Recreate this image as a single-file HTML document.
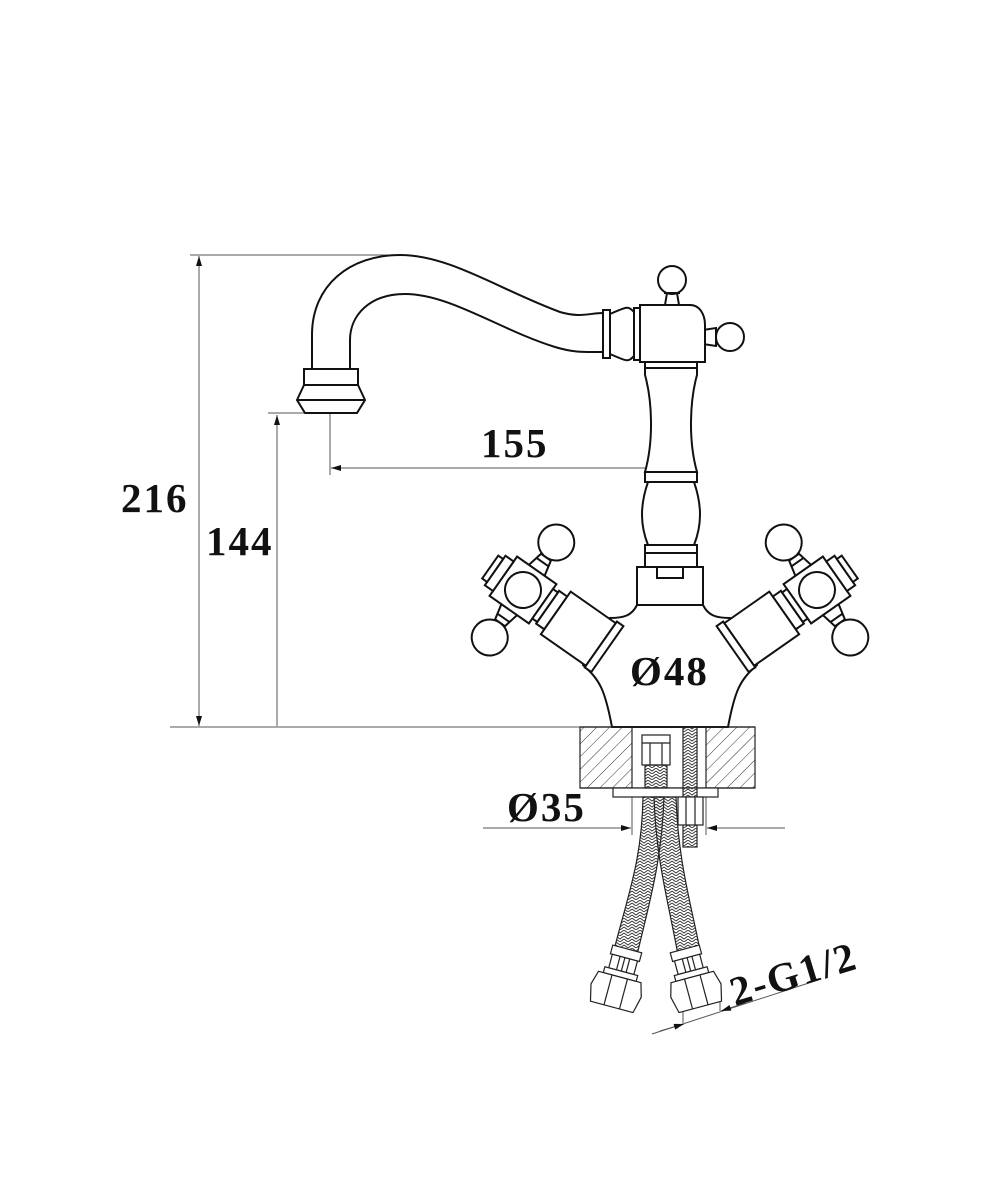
<!DOCTYPE html>
<html><head><meta charset="utf-8"><style>
html,body{margin:0;padding:0;background:#fff;}
svg{display:block;}
text{font-family:"Liberation Serif",serif;font-weight:bold;fill:#111;letter-spacing:2px;}
</style></head><body>
<svg width="1000" height="1200" viewBox="0 0 1000 1200" xmlns="http://www.w3.org/2000/svg">
<defs>
<pattern id="h" width="9" height="9" patternUnits="userSpaceOnUse" patternTransform="rotate(45)">
<line x1="0" y1="0" x2="0" y2="9" stroke="#333" stroke-width="1"/></pattern>
<pattern id="br" width="8" height="6" patternUnits="userSpaceOnUse">
<path d="M0 0 L4 3 L8 0 M0 3 L4 6 L8 3" stroke="#333" stroke-width="0.9" fill="none"/></pattern>
<marker id="a" viewBox="0 0 10 6" refX="10" refY="3" markerWidth="18" markerHeight="6" orient="auto-start-reverse" markerUnits="userSpaceOnUse"><path d="M0 0 L10 3 L0 6z" fill="#111"/></marker>
</defs>
<g fill="none" stroke="#555" stroke-width="1">
<line x1="190" y1="255" x2="400" y2="255"/>
<line x1="170" y1="727" x2="580" y2="727"/>
<line x1="199" y1="256" x2="199" y2="726" marker-start="url(#a)" marker-end="url(#a)"/>
<line x1="268" y1="413" x2="305" y2="413"/>
<line x1="277" y1="415" x2="277" y2="726" marker-start="url(#a)"/>
<line x1="330" y1="413" x2="330" y2="475"/>
<line x1="331" y1="468" x2="668" y2="468" marker-start="url(#a)" marker-end="url(#a)"/>
<line x1="670" y1="457" x2="670" y2="475"/>
<line x1="620" y1="687" x2="620" y2="727"/>
<line x1="722" y1="687" x2="722" y2="727"/>
<line x1="621" y1="693" x2="721" y2="693" marker-start="url(#a)" marker-end="url(#a)"/>
<line x1="483" y1="828" x2="631" y2="828" marker-end="url(#a)"/>
<line x1="785" y1="828" x2="707" y2="828" marker-end="url(#a)"/>
<line x1="632" y1="797" x2="632" y2="835"/>
<line x1="706" y1="797" x2="706" y2="835"/>
<line x1="652" y1="1034" x2="818" y2="980"/>
<line x1="683" y1="1023" x2="683" y2="1012" /><line x1="720" y1="1011" x2="720" y2="1000"/>
<line x1="660" y1="1031" x2="684" y2="1024" marker-end="url(#a)"/>
<line x1="745" y1="1003" x2="721" y2="1011" marker-end="url(#a)"/>
</g>
<g fill="#fff" stroke="#111" stroke-width="2">
<path d="M312 369 L312 335 C312 285 350 255 400 255 C450 255 500 290 560 312 C580 318 590 313 603 313 L603 352 C585 352 575 353 555 347 C500 330 450 294 405 294 C370 294 350 315 350 340 L350 369 Z"/>
<rect x="304" y="369" width="54" height="16"/>
<path d="M304 385 L297 400 L305 413 L357 413 L365 400 L358 385 Z"/>
<line x1="297" y1="400" x2="365" y2="400"/>
<rect x="603" y="310" width="7" height="48"/>
<path d="M610 314 C628 306 628 306 634 312 L634 356 C628 362 628 362 610 354 Z"/>
<rect x="634" y="308" width="6" height="52"/>
<path d="M665 305 L667 293 L677 293 L679 305"/>
<circle cx="672" cy="280" r="14"/>
<line x1="664" y1="293" x2="680" y2="293"/>
<path d="M703 330 L716 328 L716 346 L703 344"/>
<circle cx="730" cy="337" r="14"/>
<path d="M640 305 L690 305 C700 305 705 315 705 325 L705 362 L640 362 Z"/>
<path d="M645 362 L697 362 L697 375 C690 400 688 440 697 472 L645 472 C654 440 652 400 645 375 Z"/>
<line x1="645" y1="368" x2="697" y2="368"/>
<rect x="645" y="472" width="52" height="10"/>
<path d="M648 482 L694 482 C702 505 702 525 694 545 L648 545 C640 525 640 505 648 482 Z"/>
<rect x="645" y="545" width="52" height="22"/>
<line x1="645" y1="553" x2="697" y2="553"/>
<path d="M637 605 C632 615 625 618 610 618 L583 665 C600 680 605 690 612 727 L728 727 C735 690 740 680 757 665 L730 618 C715 618 708 615 703 605 Z"/>
<rect x="637" y="567" width="66" height="38"/>
<rect x="657" y="567" width="26" height="11"/>
</g>
<g fill="#fff" stroke="#111" stroke-width="2" transform="translate(523,590) rotate(35)">
<rect x="30" y="-20" width="10" height="40"/>
<rect x="40" y="-26" width="55" height="52"/>
<rect x="95" y="-28" width="8" height="56"/>
<path d="M-10 -22 L-6 -40 L6 -40 L10 -22"/>
<line x1="-8" y1="-34" x2="8" y2="-34"/>
<circle cx="0" cy="-58" r="18"/>
<path d="M-10 22 L-6 40 L6 40 L10 22"/>
<line x1="-8" y1="34" x2="8" y2="34"/>
<circle cx="0" cy="58" r="18"/>
<rect x="-24" y="-24" width="48" height="48"/>
<rect x="-34" y="-18" width="10" height="36"/>
<rect x="-40" y="-14" width="6" height="28"/>
<rect x="24" y="-18" width="6" height="36"/>
<circle cx="0" cy="0" r="18"/>
</g>
<g transform="translate(1340,0) scale(-1,1)">
<g fill="#fff" stroke="#111" stroke-width="2" transform="translate(523,590) rotate(35)">
<rect x="30" y="-20" width="10" height="40"/>
<rect x="40" y="-26" width="55" height="52"/>
<rect x="95" y="-28" width="8" height="56"/>
<path d="M-10 -22 L-6 -40 L6 -40 L10 -22"/>
<line x1="-8" y1="-34" x2="8" y2="-34"/>
<circle cx="0" cy="-58" r="18"/>
<path d="M-10 22 L-6 40 L6 40 L10 22"/>
<line x1="-8" y1="34" x2="8" y2="34"/>
<circle cx="0" cy="58" r="18"/>
<rect x="-24" y="-24" width="48" height="48"/>
<rect x="-34" y="-18" width="10" height="36"/>
<rect x="-40" y="-14" width="6" height="28"/>
<rect x="24" y="-18" width="6" height="36"/>
<circle cx="0" cy="0" r="18"/>
</g></g>
<g stroke="#222" stroke-width="1.2">
<rect x="580" y="727" width="52" height="61" fill="url(#h)"/>
<rect x="706" y="727" width="49" height="61" fill="url(#h)"/>
<line x1="580" y1="727" x2="755" y2="727"/>
<line x1="580" y1="788" x2="755" y2="788"/>
<rect x="613" y="788" width="105" height="9" fill="#fff"/>
<rect x="683" y="727" width="14" height="120" fill="url(#br)"/>
<rect x="678" y="797" width="25" height="28" fill="#fff"/>
<line x1="686" y1="797" x2="686" y2="825"/><line x1="695" y1="797" x2="695" y2="825"/>
<rect x="642" y="735" width="28" height="30" fill="#fff"/>
<line x1="642" y1="743" x2="670" y2="743"/>
<line x1="650" y1="743" x2="650" y2="765"/><line x1="662" y1="743" x2="662" y2="765"/>
<rect x="645" y="765" width="22" height="23" fill="url(#br)"/>
<path d="M643 797 L664 797 C662 860 650 900 637 955 L614 950 C628 895 642 860 643 797 Z" fill="url(#br)"/>
<path d="M654 797 L676 797 C678 860 690 900 700 950 L678 955 C668 900 656 860 654 797 Z" fill="url(#br)"/>
<g transform="translate(620,976) rotate(15)" fill="#fff">
<rect x="-15" y="-28" width="30" height="9"/><rect x="-13" y="-19" width="26" height="14"/>
<line x1="-5" y1="-19" x2="-5" y2="-5"/><line x1="0" y1="-19" x2="0" y2="-5"/><line x1="5" y1="-19" x2="5" y2="-5"/>
<rect x="-17" y="-5" width="34" height="6"/>
<path d="M-22 1 L22 1 L26 15 L22 32 L-22 32 L-26 15 Z"/>
<line x1="-8" y1="1" x2="-8" y2="32"/><line x1="8" y1="1" x2="8" y2="32"/>
</g>
<g transform="translate(692,976) rotate(-15)" fill="#fff">
<rect x="-15" y="-28" width="30" height="9"/><rect x="-13" y="-19" width="26" height="14"/>
<line x1="-5" y1="-19" x2="-5" y2="-5"/><line x1="0" y1="-19" x2="0" y2="-5"/><line x1="5" y1="-19" x2="5" y2="-5"/>
<rect x="-17" y="-5" width="34" height="6"/>
<path d="M-22 1 L22 1 L26 15 L22 32 L-22 32 L-26 15 Z"/>
<line x1="-8" y1="1" x2="-8" y2="32"/><line x1="8" y1="1" x2="8" y2="32"/>
</g>
</g>
<text x="121" y="512" font-size="41">216</text>
<text x="206" y="555" font-size="41">144</text>
<text x="481" y="457" font-size="41">155</text>
<text x="630" y="685" font-size="41">Ø48</text>
<text x="507" y="821" font-size="41">Ø35</text>
<text x="0" y="0" font-size="41" transform="translate(735,1006) rotate(-17)">2-G1/2</text>
</svg>
</body></html>
